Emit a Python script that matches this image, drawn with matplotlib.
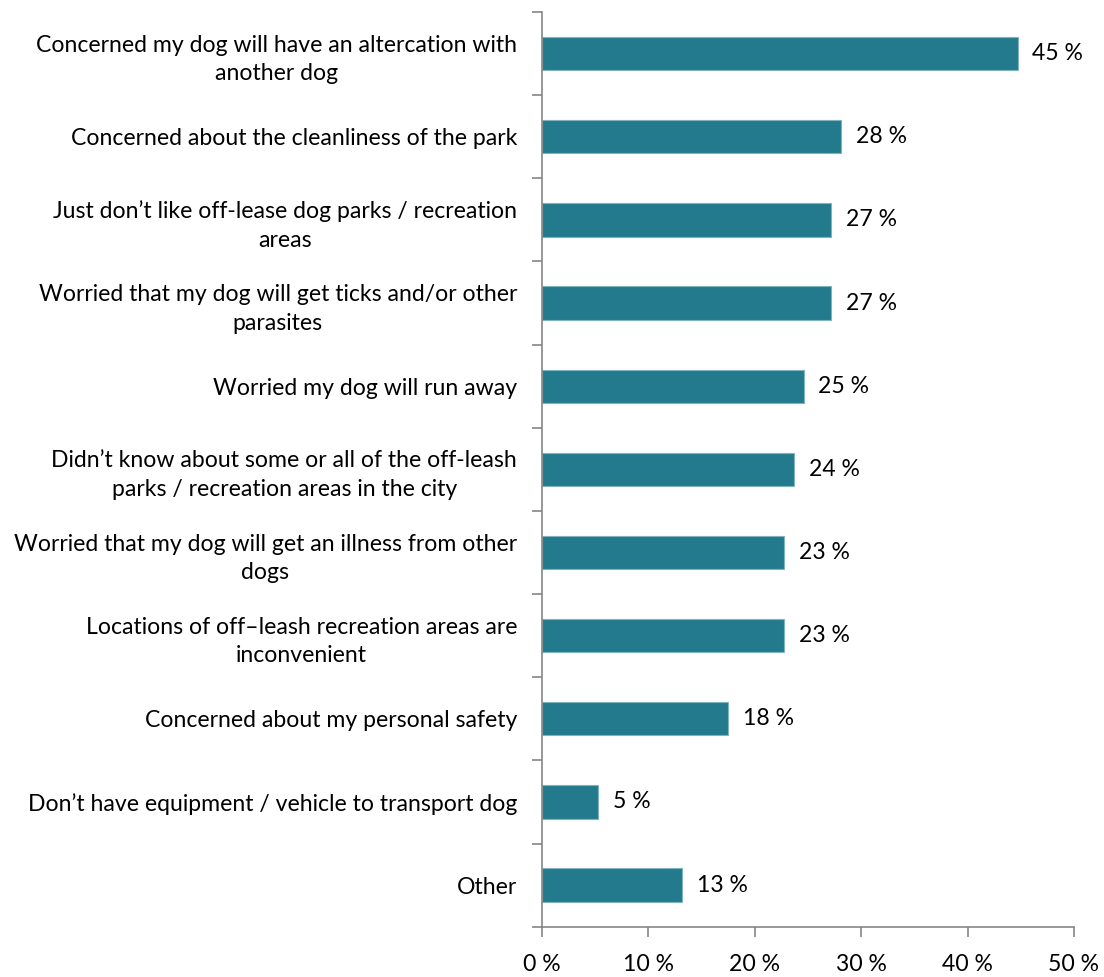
import matplotlib
matplotlib.use("Agg")
import matplotlib.pyplot as plt
import numpy as np

categories = [
    "Concerned my dog will have an altercation with\nanother dog",
    "Concerned about the cleanliness of the park",
    "Just don\u2019t like off-lease dog parks / recreation\nareas",
    "Worried that my dog will get ticks and/or other\nparasites",
    "Worried my dog will run away",
    "Didn\u2019t know about some or all of the off-leash\nparks / recreation areas in the city",
    "Worried that my dog will get an illness from other\ndogs",
    "Locations of off\u2013leash recreation areas are\ninconvenient",
    "Concerned about my personal safety",
    "Don\u2019t have equipment / vehicle to transport dog",
    "Other",
]
values = [44.7, 28.1, 27.2, 27.2, 24.6, 23.7, 22.8, 22.8, 17.5, 5.3, 13.2]
xticks = [0, 10, 20, 30, 40, 50]

plt.rcParams["font.family"] = ["Lato", "DejaVu Sans"]
FS = 16.6

fig = plt.figure(figsize=(11.04, 9.77), dpi=100)
ax = fig.add_axes([0.4907, 0.0515, 0.9728 - 0.4907, 0.9877 - 0.0515])

n = len(categories)
y = np.arange(n)
bar_color = "#237A8D"
ax.barh(y, values, height=0.40, color=bar_color, edgecolor="#7FB3C0", linewidth=0.8)

for yi, v in zip(y, values):
    ax.text(v + 1.4, yi, f"{v:.0f} %", va="center", ha="left", fontsize=FS, color="#000000")

ax.set_ylim(n - 0.5, -0.5)
ax.set_xlim(0, 50)

# category names, centred as a block, right edge against the axis
ax.set_yticks(y)
ax.set_yticklabels(categories, fontsize=FS, ha="right", multialignment="center",
                   linespacing=1.45)
ax.tick_params(axis="y", which="major", length=0, pad=17.8)
# tick marks sit on the boundaries between categories
ax.set_yticks(np.arange(-0.5, n, 1.0), minor=True)
ax.tick_params(axis="y", which="minor", length=7, width=1.2, color="#868686", direction="out")

ax.set_xticks(xticks)
ax.set_xticklabels([f"{t} %" for t in xticks], fontsize=FS)
ax.tick_params(axis="x", length=7, width=1.2, color="#868686", direction="out", pad=13)

for s in ["top", "right"]:
    ax.spines[s].set_visible(False)
for s in ["left", "bottom"]:
    ax.spines[s].set_color("#868686")
    ax.spines[s].set_linewidth(1.2)

fig.savefig("out.png", dpi=100)
